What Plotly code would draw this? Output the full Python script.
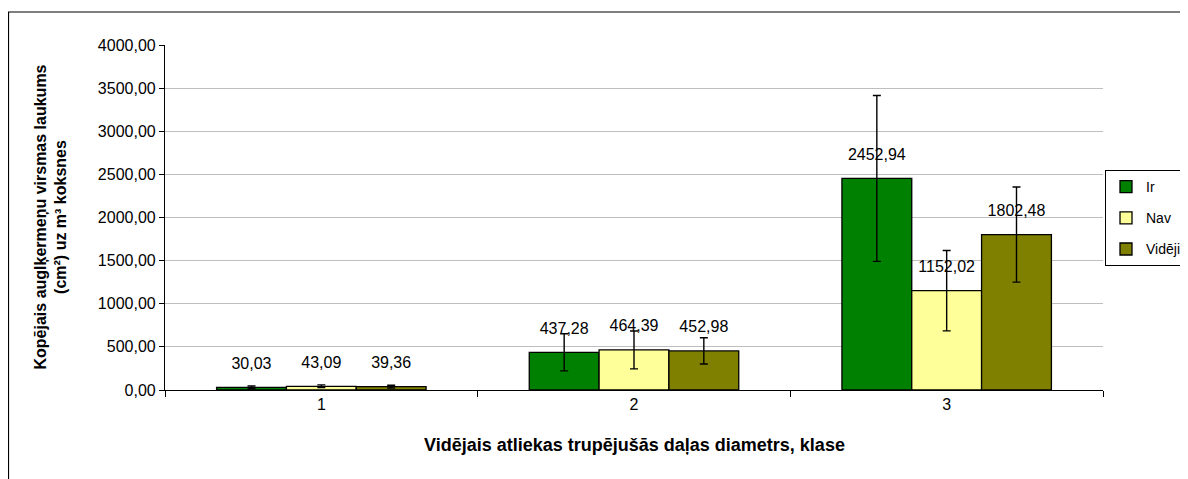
import plotly.graph_objects as go

categories = ["1", "2", "3"]
series_names = ["Ir", "Nav", "Vidēji"]
ir_values = [30.03, 437.28, 2452.94]
nav_values = [43.09, 464.39, 1152.02]
videji_values = [39.36, 452.98, 1802.48]
ir_err = [16, 215, 962]
nav_err = [16, 220, 466]
videji_err = [16, 152, 552]
y_ticks = [0, 500, 1000, 1500, 2000, 2500, 3000, 3500, 4000]

colors = ["#008000", "#FFFF99", "#808000"]
values = [ir_values, nav_values, videji_values]
errs = [ir_err, nav_err, videji_err]

FONT = "Liberation Sans, Arial"

def fmt(v):
    return f"{v:.2f}".replace(".", ",")

fig = go.Figure()
for name, vals, er, col in zip(series_names, values, errs, colors):
    fig.add_trace(go.Bar(
        x=categories, y=vals, name=name, legendgroup=name, offsetgroup=name,
        marker=dict(color=col, line=dict(color="#000000", width=1.3)),
        error_y=dict(type="data", array=er, visible=True, color="#000000", thickness=1.4, width=4),
        hoverinfo="x+y",
    ))
# value labels, grouped like the bars, lifted above the bar tops
for name, vals in zip(series_names, values):
    fig.add_trace(go.Scatter(
        x=categories, y=vals, mode="markers+text", offsetgroup=name, legendgroup=name,
        marker=dict(size=22, opacity=0, color="#000000"),
        text=[fmt(v) for v in vals], textposition="top center", cliponaxis=False,
        textfont=dict(family=FONT, size=16, color="#000000"),
        showlegend=False, hoverinfo="skip",
    ))

# page body has an 8px margin, so the figure is sized/margined to compensate
W, H = 1180, 471
ML, MT, PW, PH = 157, 37, 938, 345

fig.update_layout(
    width=W, height=H,
    margin=dict(l=ML, r=W - ML - PW, t=MT, b=H - MT - PH, autoexpand=False),
    paper_bgcolor="#FFFFFF", plot_bgcolor="#FFFFFF",
    barmode="group", bargap=0.33, bargroupgap=0,
    scattermode="group", scattergap=0.33,
    separators=", ",
    font=dict(family=FONT, size=15, color="#000000"),
    showlegend=True,
    legend=dict(x=1 + (1097 - (ML + PW)) / PW, y=1 - (162 - MT) / PH,
                xanchor="left", yanchor="top",
                bordercolor="#000000", borderwidth=1, bgcolor="#FFFFFF",
                font=dict(size=14, family=FONT), traceorder="grouped", tracegroupgap=10,
                itemwidth=30),
    shapes=[dict(type="rect", xref="paper", yref="paper",
                 x0=(0.5 - ML) / PW, x1=(W + 20 - ML) / PW,
                 y0=-(H + 20 - MT - PH) / PH, y1=1 + (MT - 4) / PH,
                 line=dict(color="#000000", width=1.2), layer="below")],
    annotations=[dict(text="<b>Vidējais atliekas trupējušās daļas diametrs, klase</b>",
                      xref="paper", yref="paper", x=0.5, y=-(437 - MT - PH) / PH,
                      xanchor="center", yanchor="middle", showarrow=False,
                      font=dict(size=18, family=FONT, color="#000000")),
                 dict(text="<b>Kopējais auglķermeņu virsmas laukums<br>(cm²) uz m³ koksnes</b>",
                      xref="paper", yref="paper", x=(42 - ML) / PW, y=0.5, textangle=-90,
                      xanchor="center", yanchor="middle", showarrow=False,
                      font=dict(size=16, family=FONT, color="#000000"))],
)

fig.update_yaxes(range=[0, 4000], tickvals=y_ticks, tickformat=".2f",
                 showgrid=True, gridcolor="#BEBEBE", gridwidth=1,
                 showline=True, linecolor="#000000", linewidth=1.2,
                 ticks="outside", ticklen=5, tickcolor="#000000",
                 tickfont=dict(size=16), zeroline=False)
fig.update_xaxes(showline=True, linecolor="#000000", linewidth=1.3,
                 ticks="outside", tickson="boundaries", ticklen=6, tickcolor="#000000",
                 tickfont=dict(size=16))

fig.write_html("out.html")
